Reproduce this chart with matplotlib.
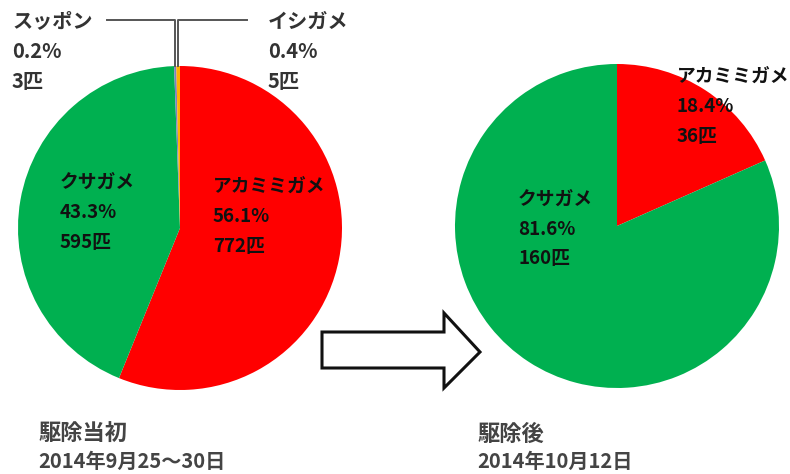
import numpy as np
import matplotlib
matplotlib.use('Agg')
import matplotlib.pyplot as plt
from matplotlib.patches import Polygon

plt.rcParams['font.family'] = ['Noto Sans CJK JP', 'DejaVu Sans']

# turtle counts before and after removal
before_species = ['アカミミガメ', 'クサガメ', 'スッポン', 'イシガメ']
before_counts = [772, 595, 3, 5]
after_species = ['アカミミガメ', 'クサガメ']
after_counts = [36, 160]

before_title = '駆除当初'
before_date = '2014年9月25～30日'
after_title = '駆除後'
after_date = '2014年10月12日'

colors = {'アカミミガメ': '#FF0000', 'クサガメ': '#00B050',
          'スッポン': '#7F7FBF', 'イシガメ': '#FFB000'}

W, H = 790, 474
fig = plt.figure(figsize=(7.9, 4.74), dpi=100)
ax = fig.add_axes([0, 0, 1, 1])


def Y(py):
    # pixel row -> data y (y axis points up)
    return H - py


def draw_pie(counts, names, cx, cy, r):
    ax.pie(counts, colors=[colors[n] for n in names], startangle=90,
           counterclock=False, center=(cx, Y(cy)), radius=r,
           wedgeprops=dict(linewidth=0), frame=True)


def label(x, y, name, count, total, size=13.5, color='#111111', pitch=30):
    lines = [name, f'{100 * count / total:.1f}%', f'{count}匹']
    for i, s in enumerate(lines):
        ax.text(x, Y(y + i * pitch), s, fontsize=size, color=color,
                fontweight='bold', ha='left', va='center')


# left pie
lcx, lcy, lr = 180, 228, 162
draw_pie(before_counts, before_species, lcx, lcy, lr)
tot_b = sum(before_counts)
label(213, 186, before_species[0], before_counts[0], tot_b)
label(60, 182, before_species[1], before_counts[1], tot_b)
label(12, 21, before_species[2], before_counts[2], tot_b, size=14.5, color='#333333')
label(268, 21, before_species[3], before_counts[3], tot_b, size=14.5, color='#333333')

# leader lines for the two tiny slices at the top
cum = np.cumsum([0] + before_counts) / tot_b * 360
mid = (cum[:-1] + cum[1:]) / 2
for idx, x_end in [(2, 107), (3, 247)]:
    th = np.deg2rad(90 - mid[idx])
    ax_x = lcx + lr * np.cos(th)
    ax_y = lcy - lr * np.sin(th)
    ax.plot([x_end, ax_x, ax_x], [Y(20), Y(20), Y(ax_y)], color='#555555', lw=1.4)

# right pie
rcx, rcy, rr = 617, 226, 162
draw_pie(after_counts, after_species, rcx, rcy, rr)
tot_a = sum(after_counts)
label(677, 76, after_species[0], after_counts[0], tot_a)
label(518, 199, after_species[1], after_counts[1], tot_a)

# arrow between the pies
arrow = [(322, 332), (444, 332), (444, 313), (480, 352), (444, 388), (444, 368), (322, 368)]
ax.add_patch(Polygon([(x, Y(y)) for x, y in arrow], closed=True,
                     facecolor='white', edgecolor='#111111', lw=2.2, joinstyle='miter'))

# captions under each pie
for x, title, date in [(38, before_title, before_date), (477, after_title, after_date)]:
    ax.text(x, Y(434), title, fontsize=16, fontweight='bold', color='#444444', ha='left', va='center')
    ax.text(x, Y(461), date, fontsize=14.5, fontweight='bold', color='#444444', ha='left', va='center')

ax.set_xlim(0, W)
ax.set_ylim(0, H)
ax.set_aspect('equal')
ax.axis('off')

fig.savefig('out.png', dpi=100)
